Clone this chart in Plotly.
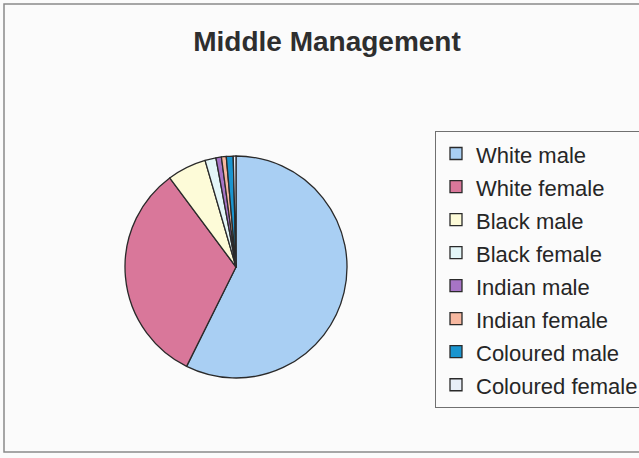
import plotly.graph_objects as go

categories = ["White male", "White female", "Black male", "Black female",
              "Indian male", "Indian female", "Coloured male", "Coloured female"]
values = [57.4, 32.5, 5.7, 1.6, 0.8, 0.7, 1.0, 0.4]
colors = ["#a9cff3", "#d9779a", "#fdfbd8", "#e4f6f8", "#a774c6", "#f7b8a0", "#1a95cf", "#e8eef8"]

title_text = "Middle Management"

W, H = 639, 458

# legend text drawn at 22px inside a 23px legend font so rows are spaced like the original
legend_labels = ["<span style='font-size:22px'>" + c + "</span>" for c in categories]

fig = go.Figure()
fig.add_trace(go.Pie(
    labels=legend_labels,
    values=values,
    sort=False,
    direction="clockwise",
    rotation=0,
    marker=dict(colors=colors, line=dict(color="#2a2a2a", width=1.3)),
    textinfo="none",
    hoverinfo="label+percent",
    domain=dict(x=[125 / W, 347 / W], y=[1 - 378 / H, 1 - 156 / H]),
))

fig.update_layout(
    width=W, height=H,
    margin=dict(l=0, r=0, t=0, b=0, autoexpand=False),
    paper_bgcolor="#fbfbfb",
    plot_bgcolor="#fbfbfb",
    title=dict(text="<b>" + title_text + "</b>", xref="container", yref="container",
               x=327 / W, y=1 - 41 / H, xanchor="center", yanchor="middle",
               font=dict(family="Liberation Sans", size=28, color="#2e2e2e")),
    showlegend=True,
    legend=dict(
        xref="container", yref="container",
        x=435 / W, y=1 - 131 / H, xanchor="left", yanchor="top",
        maxheight=330,
        bgcolor="#fbfbfb", bordercolor="#707070", borderwidth=1,
        font=dict(family="Liberation Sans", size=23.1, color="#262626"),
        traceorder="normal",
    ),
    shapes=[
        dict(type="rect", xref="paper", yref="paper",
             x0=4 / W, x1=650 / W, y0=1 - 452 / H, y1=1 - 4 / H,
             line=dict(color="#8a8a8a", width=1.5), layer="below"),
    ],
)

fig.write_html("out.html", config={"displayModeBar": False},
               post_script="document.body.style.margin='0';")
